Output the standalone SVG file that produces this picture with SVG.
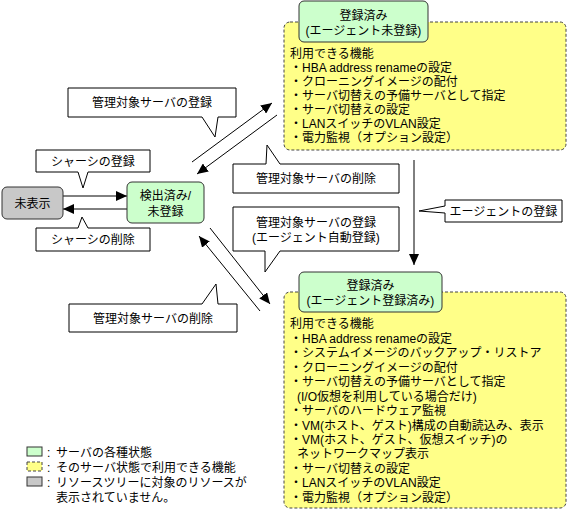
<svg xmlns="http://www.w3.org/2000/svg" width="567" height="510" viewBox="0 0 567 510">
<style>
text{font-family:"Liberation Sans","Noto Sans CJK JP",sans-serif;font-size:12px;fill:#000}
.c{text-anchor:middle}
.state{fill:#ccffcc;stroke:#333;stroke-width:1}
.func{fill:#ffff88;stroke:#444;stroke-width:1;stroke-dasharray:3,2}
.gray{fill:#c8c8c8;stroke:#333;stroke-width:1}
.call{fill:#fff;stroke:#000;stroke-width:1}
.ln{stroke:#000;stroke-width:1;fill:none;marker-end:url(#ah)}
</style>
<defs>
<marker id="ah" markerUnits="userSpaceOnUse" markerWidth="12" markerHeight="10" refX="11" refY="5" orient="auto">
<path d="M0,0 L11,5 L0,10 Z" fill="#000"/>
</marker>
</defs>
<rect width="567" height="510" fill="#fff"/>

<g id="connectors">
<line class="ln" x1="63" y1="196" x2="127" y2="196"/>
<line class="ln" x1="127" y1="209" x2="63" y2="209"/>
<line class="ln" x1="192" y1="162" x2="272" y2="103"/>
<line class="ln" x1="277" y1="115" x2="197" y2="174"/>
<line class="ln" x1="210" y1="228" x2="270" y2="304"/>
<line class="ln" x1="260" y1="311" x2="199" y2="236"/>
<line class="ln" x1="414" y1="160" x2="414" y2="265"/>
</g>

<g id="n-hidden">
<rect class="gray" x="2" y="187" width="61" height="32" rx="5"/>
<text class="c" x="32.5" y="207.5">未表示</text>
</g>

<g id="n-detected">
<rect class="state" x="127" y="182" width="77" height="41" rx="5"/>
<text class="c" x="165.5" y="199.5">検出済み/</text>
<text class="c" x="165.5" y="216">未登録</text>
</g>

<g id="n-func-top">
<rect class="func" x="284" y="22" width="282" height="128" rx="6"/>
<text x="290" y="57.5">利用できる機能</text>
<text x="290" y="71.5">・HBA address renameの設定</text>
<text x="290" y="85.5">・クローニングイメージの配付</text>
<text x="290" y="99.5">・サーバ切替えの予備サーバとして指定</text>
<text x="290" y="113.5">・サーバ切替えの設定</text>
<text x="290" y="127.5">・LANスイッチのVLAN設定</text>
<text x="290" y="141.5">・電力監視（オプション設定）</text>
</g>

<g id="n-reg-top">
<rect class="state" x="299" y="1" width="129" height="41" rx="5"/>
<text class="c" x="363.5" y="19.5">登録済み</text>
<text class="c" x="363.5" y="34.5">(エージェント未登録)</text>
</g>

<g id="n-func-bottom">
<rect class="func" x="284" y="292" width="282" height="216" rx="6"/>
<text x="290" y="327.5">利用できる機能</text>
<text x="290" y="342.5">・HBA address renameの設定</text>
<text x="290" y="356.5">・システムイメージのバックアップ・リストア</text>
<text x="290" y="371.5">・クローニングイメージの配付</text>
<text x="290" y="385.5">・サーバ切替えの予備サーバとして指定</text>
<text x="297" y="400.5">(I/O仮想を利用している場合だけ)</text>
<text x="290" y="414.5">・サーバのハードウェア監視</text>
<text x="290" y="429.5">・VM(ホスト、ゲスト)構成の自動読込み、表示</text>
<text x="290" y="443.5">・VM(ホスト、ゲスト、仮想スイッチ)の</text>
<text x="297" y="457.5">ネットワークマップ表示</text>
<text x="290" y="472.5">・サーバ切替えの設定</text>
<text x="290" y="486.5">・LANスイッチのVLAN設定</text>
<text x="290" y="501.5">・電力監視（オプション設定）</text>
</g>

<g id="n-reg-bottom">
<rect class="state" x="299" y="272" width="143" height="40" rx="5"/>
<text class="c" x="370.5" y="289.5">登録済み</text>
<text class="c" x="370.5" y="304.5">(エージェント登録済み)</text>
</g>

<g id="callouts">
<path class="call" d="M36,150 H150 V172 H88 L83,188 L78,172 H36 Z"/>
<text class="c" x="93" y="165.5">シャーシの登録</text>
<path class="call" d="M36,228 H78 L82,217 L88,228 H150 V251 H36 Z"/>
<text class="c" x="93" y="244">シャーシの削除</text>
<path class="call" d="M68,88 H236 V117 H218 L215,137 L202,117 H68 Z"/>
<text class="c" x="152" y="107">管理対象サーバの登録</text>
<path class="call" d="M233,164 H266 L267,145 L280,164 H399 V193 H233 Z"/>
<text class="c" x="316" y="183">管理対象サーバの削除</text>
<path class="call" d="M233,207 H399 V251 H280 L265,272 L265,251 H233 Z"/>
<text class="c" x="316" y="226.5">管理対象サーバの登録</text>
<text class="c" x="316" y="241.5">(エージェント自動登録)</text>
<path class="call" d="M69,304 H202 L216,284 L218,304 H237 V332 H69 Z"/>
<text class="c" x="153" y="322.5">管理対象サーバの削除</text>
<path class="call" d="M445,200 H562 V222 H445 V213 L419,211 L445,206 Z"/>
<text class="c" x="503.5" y="215.5">エージェントの登録</text>
</g>

<g id="legend">
<rect class="state" x="27" y="447" width="15" height="9"/>
<text x="47" y="456.5">:</text>
<text x="56" y="456.5">サーバの各種状態</text>
<rect class="func" x="27" y="462" width="15" height="9"/>
<text x="47" y="471.5">:</text>
<text x="56" y="471.5">そのサーバ状態で利用できる機能</text>
<rect class="gray" x="27" y="477" width="15" height="9"/>
<text x="47" y="486.5">:</text>
<text x="56" y="486.5">リソースツリーに対象のリソースが</text>
<text x="56" y="501.5">表示されていません。</text>
</g>
</svg>
